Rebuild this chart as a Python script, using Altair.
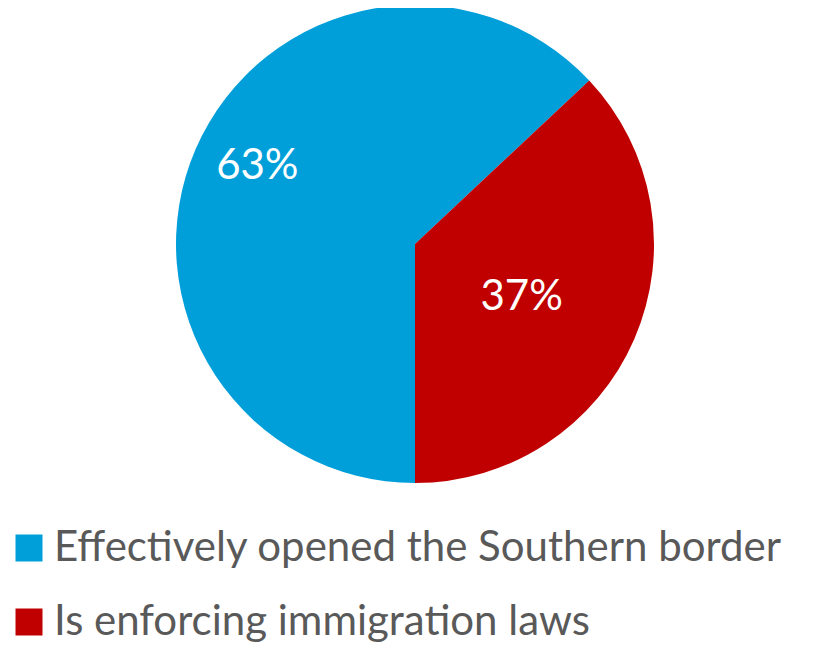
import altair as alt
import pandas as pd
import math

categories = ["Effectively opened the Southern border", "Is enforcing immigration laws"]
values = [63, 37]
labels = ["63%", "37%"]
colors = ["#009FDA", "#C00000"]

df = pd.DataFrame({"cat": categories, "value": values, "label": labels, "idx": [0, 1]})

theta_scale = alt.Scale(range=[math.pi, 3 * math.pi])
color = alt.Color(
    "cat:N",
    sort=categories,
    scale=alt.Scale(domain=categories, range=colors),
    legend=alt.Legend(
        title=None,
        orient="none",
        legendX=0,
        legendY=519,
        direction="vertical",
        symbolType="square",
        symbolSize=729,
        symbolStrokeWidth=0,
        labelFontSize=42,
        labelFont="Lato",
        labelColor="#595959",
        labelLimit=900,
        labelOffset=4,
        rowPadding=32,
    ),
)

pie = alt.Chart(df).mark_arc(outerRadius=239).encode(
    theta=alt.Theta("value:Q", stack=True, scale=theta_scale),
    order=alt.Order("idx:Q"),
    color=color,
    x=alt.value(407),
    y=alt.value(236),
)

text = (
    alt.Chart(df)
    .transform_window(cum="sum(value)", sort=[alt.SortField("idx")], frame=[None, 0])
    .transform_calculate(mid="datum.cum - datum.value / 2 + 0.83")
    .mark_text(fontSize=42, font="Lato", color="white")
    .encode(
        theta=alt.Theta("mid:Q", stack=False, scale=theta_scale),
        text="label:N",
        x=alt.value(407),
        y=alt.value(236),
        radius=alt.Radius("idx:Q", scale=alt.Scale(type="linear", domain=[0, 1], range=[176, 119], zero=False)),
    )
)

chart = (
    alt.layer(pie, text)
    .properties(width=818, height=638, autosize=alt.AutoSizeParams(type="none"), padding=0)
    .configure_view(strokeWidth=0, stroke="transparent")
)

chart.save("out.html", embed_options={"renderer": "svg", "actions": False})
